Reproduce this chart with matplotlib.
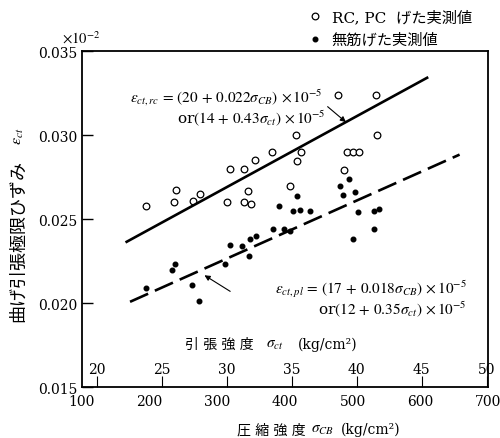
import numpy as np
import matplotlib
matplotlib.use('Agg')
import matplotlib.pyplot as plt

# 数字はセリフ体、日本語は CJK フォントへ回す
plt.rcParams['font.family'] = ['DejaVu Serif', 'Noto Sans CJK JP']
plt.rcParams['mathtext.fontset'] = 'stix'

# RC, PC げた実測値 (圧縮強度 kg/cm2, ひずみ ×10^-2)
rc_cb = [194, 236, 239, 264, 274, 314, 319, 339, 346, 339, 350, 356, 381,
         408, 416, 418, 423, 487, 491, 500, 509, 536, 479, 535]
rc_eps = [0.0258, 0.0260, 0.02675, 0.0261, 0.0265, 0.0260, 0.0280, 0.0280,
          0.0267, 0.0260, 0.0259, 0.0285, 0.0290, 0.0270, 0.0300, 0.02845,
          0.0290, 0.0279, 0.0290, 0.0290, 0.0290, 0.0300, 0.0324, 0.0324]

# 無筋げた実測値
pl_cb = [495, 482, 486, 503, 508, 531, 539, 532, 500, 417, 391, 412, 422,
         437, 383, 399, 408, 357, 349, 336, 319, 347, 312, 238, 233, 195,
         263, 273]
pl_eps = [0.0274, 0.0270, 0.02645, 0.0266, 0.0254, 0.0255, 0.0256, 0.0244,
          0.0238, 0.0264, 0.0258, 0.0255, 0.02555, 0.0255, 0.0244, 0.0244,
          0.0243, 0.0240, 0.0238, 0.0234, 0.02348, 0.0228, 0.0223, 0.0223,
          0.0220, 0.0209, 0.0211, 0.0201]

# 回帰式の範囲
rc_range = [166, 610]
pl_range = [171, 658]

yticks = [0.015, 0.020, 0.025, 0.030, 0.035]
xticks = [100, 200, 300, 400, 500, 600, 700]
ct_ticks = [20, 25, 30, 35, 40, 45, 50]


def eps_rc(cb):
    return (20 + 0.022 * np.asarray(cb)) / 1000


def eps_pl(cb):
    return (17 + 0.018 * np.asarray(cb)) / 1000


# 圧縮強度 <-> 引張強度 の目盛換算
def cb_to_ct(cb):
    return 35 + (np.asarray(cb) - 410) / 19.2


def ct_to_cb(ct):
    return 410 + (np.asarray(ct) - 35) * 19.2


fig = plt.figure(figsize=(5, 4.39), dpi=100)
ax = fig.add_axes([0.164, 0.116, 0.812, 0.765])

ax.plot(rc_cb, rc_eps, 'o', ms=4.8, mfc='white', mec='black', mew=0.9,
        label='RC, PC  げた実測値')
ax.plot(pl_cb, pl_eps, 'o', ms=3.3, color='black', label='無筋げた実測値')

x1 = np.linspace(*rc_range, 50)
ax.plot(x1, eps_rc(x1), color='black', lw=1.9)
x2 = np.linspace(*pl_range, 50)
ax.plot(x2, eps_pl(x2), color='black', lw=1.9, dashes=(7.5, 2.8))

ax.set_xlim(100, 700)
ax.set_ylim(0.015, 0.035)
ax.set_xticks(xticks)
ax.set_yticks(yticks)
ax.set_yticklabels([f'{v:.3f}' for v in yticks])
ax.tick_params(axis='y', direction='in', length=8, width=1, labelsize=10, pad=3)
ax.tick_params(axis='x', length=0, labelsize=10, pad=5)
for sp in ax.spines.values():
    sp.set_linewidth(1.3)

# 引張強度の目盛 (下枠の内側)
sec = ax.secondary_xaxis(0, functions=(cb_to_ct, ct_to_cb))
sec.set_alignment('top')
sec.set_xticks(ct_ticks)
sec.tick_params(direction='out', length=8, width=0.8, labelsize=10, pad=0)
sec.spines['top'].set_visible(False)

# 軸ラベル (日本語部分と記号部分を分けて配置)
tr = ax.transAxes
ax.text(0.339, 0.128, '引 張 強 度', transform=tr, ha='center', va='center',
        fontsize=10)
ax.text(0.475, 0.128, r'$\sigma_{ct}$', transform=tr, ha='center', va='center',
        fontsize=11)
ax.text(0.605, 0.128, '(kg/cm²)', transform=tr, ha='center', va='center',
        fontsize=10)

ax.text(0.467, -0.125, '圧 縮 強 度', transform=tr, ha='center', va='center',
        fontsize=10)
ax.text(0.592, -0.125, r'$\sigma_{CB}$', transform=tr, ha='center',
        va='center', fontsize=11)
ax.text(0.712, -0.125, '(kg/cm²)', transform=tr, ha='center', va='center',
        fontsize=10)

ax.text(-0.158, 0.4375, '曲げ引張極限ひずみ', transform=tr, rotation=90,
        ha='center', va='center', fontsize=13)
ax.text(-0.158, 0.75, r'$\varepsilon_{ct}$', transform=tr, rotation=90,
        ha='center', va='center', fontsize=11.5)

ax.text(-0.05, 1.04, r'$\times10^{-2}$', transform=tr,
        ha='left', va='center', fontsize=10.5)

# 回帰式の注記
ax.text(0.591, 0.865,
        r'$\varepsilon_{ct,rc}\,=\,(20\,+\,0.022\sigma_{CB})\,\times10^{-5}$',
        transform=tr, ha='right', va='center', fontsize=11)
ax.text(0.599, 0.804, r'or$(14\,+\,0.43\sigma_{ct})\,\times10^{-5}$',
        transform=tr, ha='right', va='center', fontsize=11)
ax.annotate('', xy=(490, eps_rc(490)), xytext=(463, 0.0317),
            arrowprops=dict(arrowstyle='-|>', color='black', lw=0.8,
                            mutation_scale=8, shrinkA=0, shrinkB=0))

ax.text(0.948, 0.294,
        r'$\varepsilon_{ct,pl}\,=\,(17\,+\,0.018\sigma_{CB})\,\times10^{-5}$',
        transform=tr, ha='right', va='center', fontsize=11)
ax.text(0.948, 0.236, r'or$(12\,+\,0.35\sigma_{ct})\,\times10^{-5}$',
        transform=tr, ha='right', va='center', fontsize=11)
ax.annotate('', xy=(281, eps_pl(281) - 0.0004), xytext=(319, 0.0207),
            arrowprops=dict(arrowstyle='-|>', color='black', lw=0.8,
                            mutation_scale=8, shrinkA=0, shrinkB=0))

fig.legend(loc='upper left', bbox_to_anchor=(0.602, 0.99), frameon=False,
           fontsize=11, handlelength=1.0, handletextpad=0.6,
           labelspacing=0.55, borderaxespad=0)

fig.savefig('out.png', dpi=100)
